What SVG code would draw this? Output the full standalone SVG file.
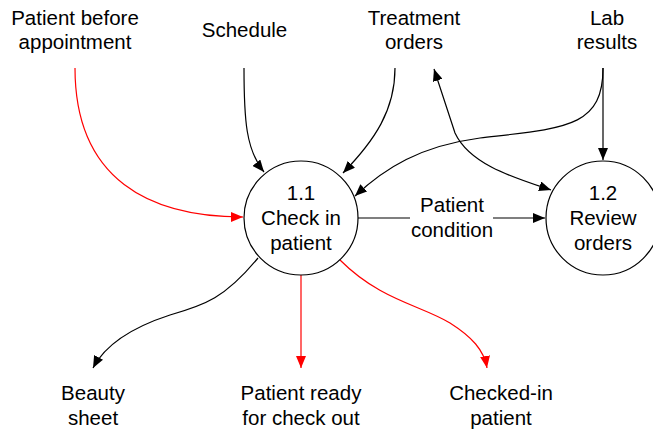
<svg xmlns="http://www.w3.org/2000/svg" width="653" height="432" viewBox="0 0 653 432">
<style>
text{font-family:"Liberation Sans",Arial,sans-serif;font-size:20.5px;fill:#000;text-anchor:middle}
.node{fill:#fff;stroke:#000;stroke-width:1.2}
.c{fill:none;stroke:#000;stroke-width:1.2}
.r{fill:none;stroke:#f00;stroke-width:1.2}
</style>
<defs>
<marker id="ab" viewBox="0 0 12 10" refX="12" refY="5" markerWidth="12" markerHeight="10" markerUnits="userSpaceOnUse" orient="auto-start-reverse"><path d="M0,0L12,5L0,10z" fill="#000"/></marker>
<marker id="ar" viewBox="0 0 12 10" refX="12" refY="5" markerWidth="12" markerHeight="10" markerUnits="userSpaceOnUse" orient="auto"><path d="M0,0L12,5L0,10z" fill="#f00"/></marker>
</defs>
<rect width="653" height="432" fill="#fff"/>
<g id="connectors">
<path class="r" d="M75,68 C75,180 150,217 243,217" marker-end="url(#ar)"/>
<path class="c" d="M244,68 C244,120 246,150 264,172" marker-end="url(#ab)"/>
<path class="c" d="M395,68 C395,110 375,140 343,173" marker-end="url(#ab)"/>
<path class="c" d="M603,68 C603,128 565,128 480,138 C420,146 385,168 355,196" marker-end="url(#ab)"/>
<path class="c" d="M603,68 L603,160" marker-end="url(#ab)"/>
<path class="c" d="M434,69 L455,133 C470,165 515,178 551,190" marker-start="url(#ab)" marker-end="url(#ab)"/>
<path class="c" d="M358,218 L410,218 M493,218 L545,218" marker-end="url(#ab)"/>
<path class="c" d="M258,258 C225,298 205,305 170,315 C130,328 105,345 93,368" marker-end="url(#ab)"/>
<path class="r" d="M301,275 L301,368" marker-end="url(#ar)"/>
<path class="r" d="M340,260 C380,300 420,305 450,323 C472,337 484,350 487,368" marker-end="url(#ar)"/>
<text x="452" y="212">Patient</text>
<text x="452" y="237">condition</text>
</g>
<g id="n11"><circle class="node" cx="301" cy="218" r="57"/><text x="301" y="200">1.1</text><text x="301" y="225">Check in</text><text x="301" y="250">patient</text></g>
<g id="n12"><circle class="node" cx="603" cy="218" r="57"/><text x="603" y="200">1.2</text><text x="603" y="225">Review</text><text x="603" y="250">orders</text></g>
<g id="e1"><text x="75" y="25">Patient before</text><text x="75" y="49">appointment</text></g>
<g id="e2"><text x="244.5" y="37">Schedule</text></g>
<g id="e3"><text x="414" y="25">Treatment</text><text x="414" y="49">orders</text></g>
<g id="e4"><text x="607" y="25">Lab</text><text x="607" y="49">results</text></g>
<g id="e5"><text x="93" y="400">Beauty</text><text x="93" y="425">sheet</text></g>
<g id="e6"><text x="301" y="400">Patient ready</text><text x="301" y="425">for check out</text></g>
<g id="e7"><text x="501" y="400">Checked-in</text><text x="501" y="425">patient</text></g>
</svg>
